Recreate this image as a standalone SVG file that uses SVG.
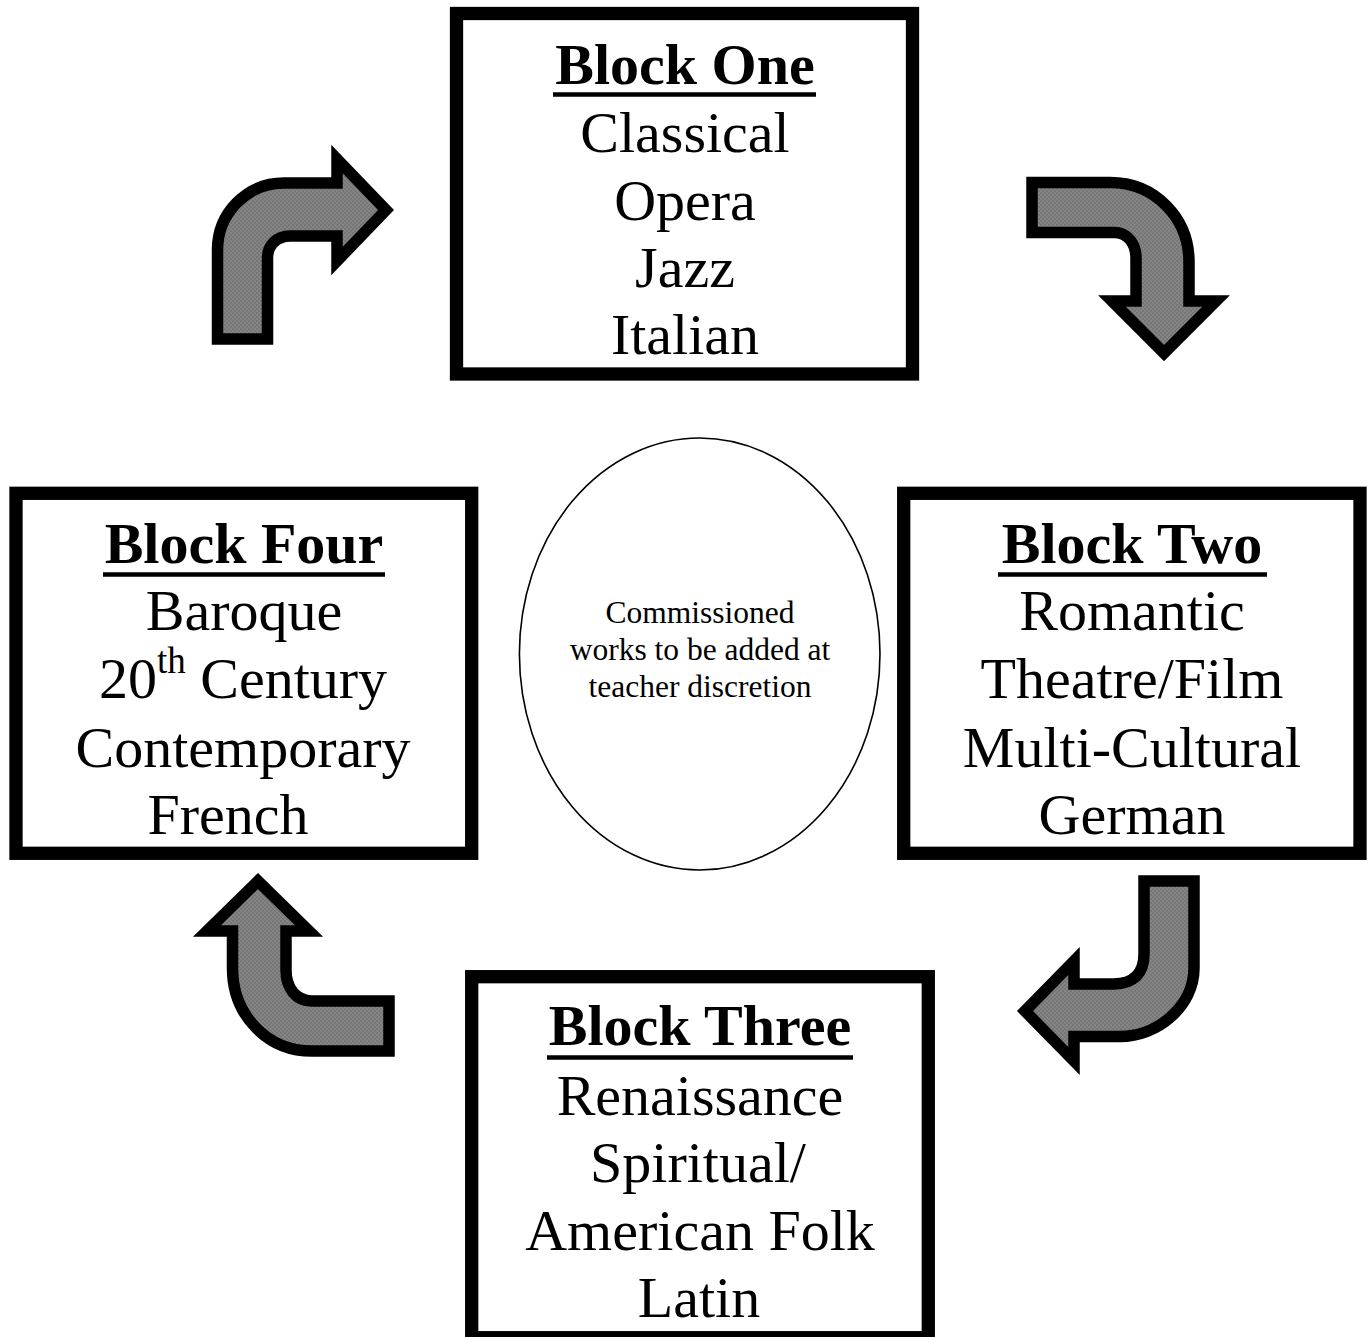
<svg xmlns="http://www.w3.org/2000/svg" width="1370" height="1337" viewBox="0 0 1370 1337">
<style>
.box{fill:#fff;stroke:#000;stroke-width:13.3}
.t{font-family:"Liberation Serif","Times New Roman",serif;font-size:58px;text-anchor:middle;fill:#000}
.h{font-weight:bold}
.ul{stroke:#000;stroke-width:4.5}
.arr{fill:url(#dots);stroke:#000;stroke-width:11.5;stroke-linejoin:miter;stroke-miterlimit:10}
.small{font-family:"Liberation Serif","Times New Roman",serif;font-size:31.5px;text-anchor:middle;fill:#000}
</style>
<defs>
<pattern id="dots" width="4" height="4" patternUnits="userSpaceOnUse">
<rect width="4" height="4" fill="#858585"/>
<rect width="2" height="2" fill="#767676"/>
<rect x="2" y="2" width="2" height="2" fill="#767676"/>
</pattern>
</defs>
<rect width="1370" height="1337" fill="#fff"/>

<g id="block-one">
<rect class="box" x="456.5" y="13.5" width="456" height="360.5"/>
<text class="t h" x="685" y="84">Block One</text>
<line class="ul" x1="553" y1="94.5" x2="816" y2="94.5"/>
<text class="t" x="685" y="152">Classical</text>
<text class="t" x="685" y="220">Opera</text>
<text class="t" x="685" y="287">Jazz</text>
<text class="t" x="685" y="354">Italian</text>
</g>

<g id="block-two">
<rect class="box" x="903.7" y="493.3" width="456.3" height="360"/>
<text class="t h" x="1132" y="563">Block Two</text>
<line class="ul" x1="998" y1="574.5" x2="1267" y2="574.5"/>
<text class="t" x="1132" y="630">Romantic</text>
<text class="t" x="1132" y="698">Theatre/Film</text>
<text class="t" x="1132" y="767">Multi-Cultural</text>
<text class="t" x="1132" y="834">German</text>
</g>

<g id="block-three">
<rect class="box" x="471.7" y="976.7" width="456.6" height="361"/>
<text class="t h" x="700" y="1045">Block Three</text>
<line class="ul" x1="547" y1="1057.5" x2="853" y2="1057.5"/>
<text class="t" x="700" y="1115">Renaissance</text>
<text class="t" x="698" y="1182">Spiritual/</text>
<text class="t" x="700" y="1250">American Folk</text>
<text class="t" x="699" y="1317">Latin</text>
</g>

<g id="block-four">
<rect class="box" x="16" y="493.3" width="455.7" height="360"/>
<text class="t h" x="244" y="563">Block Four</text>
<line class="ul" x1="103" y1="574.5" x2="385" y2="574.5"/>
<text class="t" x="244" y="630">Baroque</text>
<text class="t" x="243" y="698">20<tspan font-size="37" dy="-25">th</tspan><tspan dy="25"> Century</tspan></text>
<text class="t" x="243" y="767">Contemporary</text>
<text class="t" x="228" y="834">French</text>
</g>

<g id="center-note">
<ellipse cx="699.7" cy="654" rx="180.3" ry="216" fill="#fff" stroke="#000" stroke-width="1.6"/>
<text class="small" x="700" y="623">Commissioned</text>
<text class="small" x="700" y="660">works to be added at</text>
<text class="small" x="700" y="697">teacher discretion</text>
</g>

<g id="connectors">
<path class="arr" d="M 217.5,339 L 217.5,250 C 217.5,213 247,183 284,183 L 337,183 L 337,159 L 386,210 L 337,261 L 337,236 L 290,236 C 277,236 267.5,245 267.5,258 L 267.5,339 Z"/>
<path class="arr" d="M 1032,182.5 L 1110,182.5 C 1155,182.5 1189,218 1189,262 L 1189,301 L 1216,301 L 1164,353 L 1112,301 L 1136,301 L 1136,258 C 1136,244 1128,232.5 1114,232.5 L 1032,232.5 Z"/>
<path class="arr" d="M 1144,881 L 1194,881 L 1194,968 C 1194,1006 1158,1036.5 1120,1036.5 L 1074,1036.5 L 1074,1061 L 1025,1011 L 1074,961 L 1074,984 L 1114,984 C 1133,984 1144,974 1144,954 Z"/>
<path class="arr" d="M 389,1001 L 389,1051 L 312,1051 C 267,1051 232.5,1015 232.5,968 L 232.5,931 L 207,931 L 258,881 L 309,931 L 286,931 L 286,970 C 286,988 296,1001 312,1001 Z"/>
</g>
</svg>
